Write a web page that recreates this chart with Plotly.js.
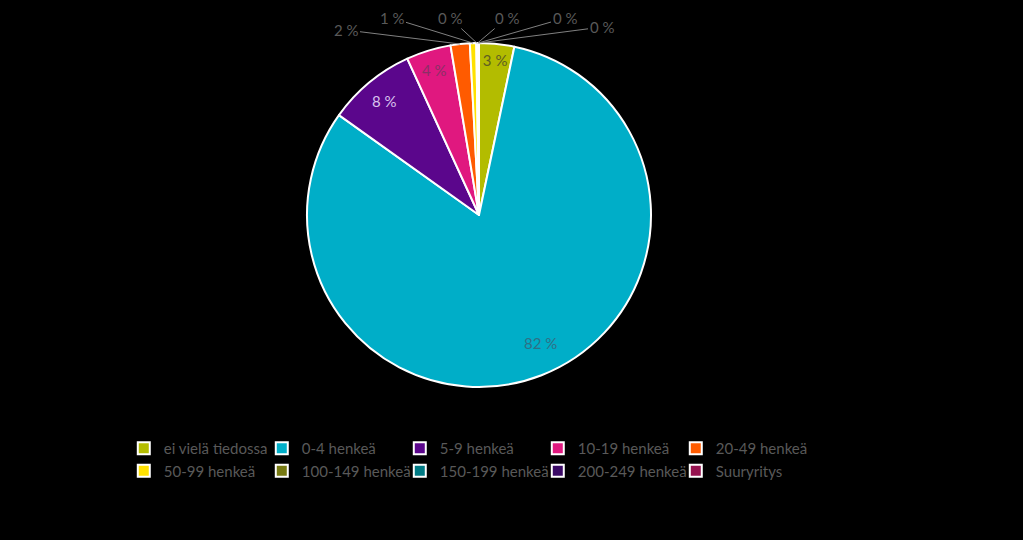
<!DOCTYPE html>
<html>
<head>
<meta charset="utf-8">
<script src="https://cdn.plot.ly/plotly-3.0.1.min.js"></script>
<style>
	html, body { margin: 0; padding: 0; background: #000; }
	#size-chart { width: 1023px; height: 540px; }
</style>
</head>
<body>
<div id="size-chart"></div>
<script>
'use strict';

// company size categories (legend order = slice order, clockwise from 12 o'clock)
var categories = [
	'ei vielä tiedossa', '0-4 henkeä', '5-9 henkeä', '10-19 henkeä', '20-49 henkeä',
	'50-99 henkeä', '100-149 henkeä', '150-199 henkeä', '200-249 henkeä', 'Suuryritys'
];
// answers per category
var counts = [66, 1632, 166, 84, 36, 12, 2, 1, 1, 1];
var sliceColors = [
	'#b3bc00', '#00aec8', '#5b068c', '#e0187f', '#ff5b00',
	'#ffe100', '#777a12', '#007a84', '#3b0a66', '#96124f'
];
// which percent labels plotly draws inside, and their colours
var labelPlaces = ['inside', 'none', 'none', 'inside', 'none', 'none', 'none', 'none', 'none', 'none'];
var labelColors = ['#5f5f22', '#2f7086', '#d9c2ee', '#8c2f66', '#595959', '#595959', '#595959', '#595959', '#595959', '#595959'];
// label spots (px) for the labels placed by hand: [x, y, with leader line]
var calloutSpots = {
	1: [540, 343, false],
	2: [384, 101, false],
	4: [346, 30, true],
	5: [392, 18, true],
	6: [450, 18, true],
	7: [507, 18, true],
	8: [565, 18, true],
	9: [602, 27, true]
};

var total = counts.reduce(function (a, b) { return a + b; }, 0);
var pctLabels = counts.map(function (c) { return Math.round(c / total * 100) + ' %'; });

const createSizeChart = function () {
	// plot box in pixels, pie fills it
	var margin = { l: 100, r: 165, t: 43, b: 153, pad: 0 };
	var boxW = 1023 - margin.l - margin.r;
	var boxH = 540 - margin.t - margin.b;
	var cx = margin.l + boxW / 2;
	var cy = margin.t + boxH / 2;
	var radius = Math.min(boxW, boxH) / 2;
	var labelFont = function (i) {
		return { family: 'Lato, "Open Sans", sans-serif', size: 15, color: labelColors[i] };
	};

	// point on the pie rim at a given share of the circle (clockwise from top)
	var rimPoint = function (share) {
		var a = share * 2 * Math.PI;
		var px = cx + radius * Math.sin(a);
		var py = cy - radius * Math.cos(a);
		return { px: px, py: py, x: (px - margin.l) / boxW, y: (margin.t + boxH - py) / boxH };
	};

	var annotations = [];
	var cum = 0;
	counts.forEach(function (c, i) {
		var start = cum / total;
		cum += c;
		var end = cum / total;
		var spot = calloutSpots[i];
		if (!spot) return;
		if (!spot[2]) {
			// label inside its slice, hand placed
			annotations.push({
				xref: 'paper', yref: 'paper',
				x: (spot[0] - margin.l) / boxW, y: (margin.t + boxH - spot[1]) / boxH,
				xanchor: 'center', yanchor: 'middle',
				text: pctLabels[i], showarrow: false, font: labelFont(i)
			});
			return;
		}
		var p = rimPoint((start + end) / 2);
		annotations.push({
			xref: 'paper', yref: 'paper', x: p.x, y: p.y,
			ax: spot[0] - p.px, ay: spot[1] - p.py,
			text: pctLabels[i],
			showarrow: true, arrowhead: 0, arrowwidth: 1, arrowcolor: '#808080', standoff: 0,
			font: labelFont(i)
		});
	});

	var layout = {
		width: 1023,
		height: 540,
		margin: margin,
		paper_bgcolor: '#000',
		plot_bgcolor: '#000',
		font: { family: 'Lato, "Open Sans", sans-serif', size: 15, color: '#595959' },
		showlegend: true,
		legend: {
			orientation: 'h',
			xref: 'container',
			yref: 'container',
			x: 0.121,
			y: 0.2,
			xanchor: 'left',
			yanchor: 'top',
			entrywidth: 93,
			entrywidthmode: 'pixels',
			itemwidth: 30,
			font: { family: 'Lato, "Open Sans", sans-serif', size: 15, color: '#595959' },
			bgcolor: 'rgba(0,0,0,0)'
		},
		annotations: annotations
	};

	var traces = [
		{
			type: 'pie',
			labels: categories,
			values: counts,
			text: pctLabels,
			textinfo: 'text',
			textposition: labelPlaces,
			insidetextorientation: 'horizontal',
			insidetextfont: { color: labelColors, size: 15 },
			sort: false,
			direction: 'clockwise',
			rotation: 0,
			marker: { colors: sliceColors, line: { color: '#ffffff', width: 2 } },
			hoverinfo: 'none'
		}
	];

	Plotly.newPlot('size-chart', traces, layout, { staticPlot: true });
};

document.addEventListener('DOMContentLoaded', createSizeChart);
</script>
</body>
</html>
